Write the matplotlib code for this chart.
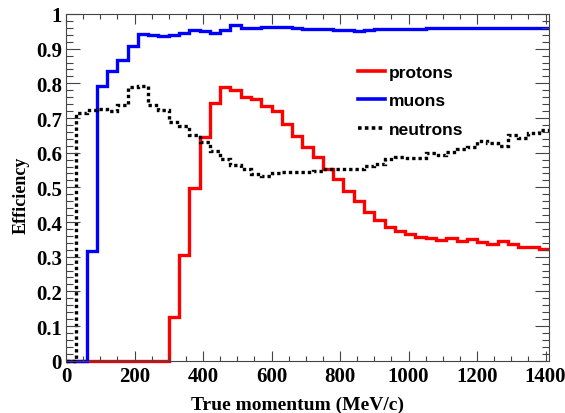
import numpy as np
import matplotlib
matplotlib.use("Agg")
import matplotlib.pyplot as plt
from matplotlib.ticker import MultipleLocator, FuncFormatter

# bin edges: 47 bins of 30 MeV/c
edges = np.arange(0, 1411, 30)

protons = [0, 0, 0, 0, 0, 0, 0, 0, 0, 0,
           0.125, 0.306, 0.497, 0.644, 0.743, 0.789, 0.782, 0.762, 0.755, 0.736,
           0.721, 0.683, 0.649, 0.615, 0.587, 0.553, 0.524, 0.490, 0.461, 0.428,
           0.406, 0.385, 0.375, 0.365, 0.358, 0.353, 0.349, 0.353, 0.345, 0.350,
           0.343, 0.337, 0.344, 0.337, 0.329, 0.329, 0.322]

muons = [0, 0, 0.317, 0.791, 0.837, 0.867, 0.909, 0.942, 0.939, 0.936,
         0.938, 0.945, 0.955, 0.952, 0.944, 0.955, 0.968, 0.960, 0.960, 0.962,
         0.963, 0.962, 0.960, 0.958, 0.957, 0.957, 0.955, 0.953, 0.951, 0.955,
         0.957, 0.957, 0.958, 0.958, 0.958, 0.959, 0.959, 0.960, 0.960, 0.960,
         0.961, 0.960, 0.961, 0.960, 0.960, 0.961, 0.961]

neutrons = [0, 0.714, 0.723, 0.726, 0.721, 0.737, 0.789, 0.793, 0.737, 0.723,
            0.688, 0.676, 0.651, 0.630, 0.606, 0.582, 0.564, 0.553, 0.538, 0.534,
            0.540, 0.543, 0.543, 0.545, 0.548, 0.553, 0.553, 0.552, 0.553, 0.561,
            0.568, 0.582, 0.587, 0.585, 0.584, 0.598, 0.592, 0.601, 0.612, 0.615,
            0.635, 0.628, 0.620, 0.651, 0.643, 0.657, 0.665]

serif = "Liberation Serif"

fig = plt.figure(figsize=(5.65, 4.14), dpi=100)
ax = fig.add_axes([66 / 565, 1 - 361.7 / 414, 483 / 565, 346.7 / 414])

lw = 2.4
ax.stairs(protons, edges, baseline=None, color="#ff0000", lw=lw, label="protons", clip_on=False)
ax.stairs(muons, edges, baseline=None, color="#0000ff", lw=lw, label="muons", clip_on=False)
ax.stairs(neutrons, edges, baseline=None, color="black", lw=lw, label="neutrons",
          linestyle=(0, (1.0, 0.9)), clip_on=False)

ax.set_xlim(0, 1410)
ax.set_ylim(0, 1)

ax.xaxis.set_major_locator(MultipleLocator(200))
ax.xaxis.set_minor_locator(MultipleLocator(50))
ax.yaxis.set_major_locator(MultipleLocator(0.1))
ax.yaxis.set_minor_locator(MultipleLocator(0.02))
ax.yaxis.set_major_formatter(FuncFormatter(lambda v, p: f"{v:.1f}".rstrip("0").rstrip(".")))

ax.tick_params(which="both", direction="in", top=True, right=True, width=0.8, color="#444444")
ax.tick_params(axis="x", which="major", length=7, pad=4)
ax.tick_params(axis="x", which="minor", length=3.5)
ax.tick_params(axis="y", which="major", length=10, pad=3)
ax.tick_params(axis="y", which="minor", length=5)
for lab in ax.get_xticklabels() + ax.get_yticklabels():
    lab.set_fontfamily(serif)
    lab.set_fontweight("bold")
    lab.set_fontsize(15)
for sp in ax.spines.values():
    sp.set_linewidth(0.8)
    sp.set_color("#444444")

ax.set_xlabel("True momentum (MeV/c)", fontfamily=serif, fontweight="bold", fontsize=14)
ax.xaxis.set_label_coords(0.48, -0.10)
ax.set_ylabel("Efficiency", fontfamily=serif, fontweight="bold", fontsize=13)
ax.yaxis.set_label_coords(-0.076, 0.48)

leg = ax.legend(loc="upper left", bbox_to_anchor=(0.605, 0.854), frameon=False,
                borderpad=0, borderaxespad=0, handlelength=1.55, handletextpad=0.22,
                labelspacing=0.78, prop={"family": "Liberation Sans", "size": 12.5, "weight": "bold"})
for h in leg.get_lines():
    h.set_linewidth(2.6)

fig.savefig("out.png", dpi=100)
